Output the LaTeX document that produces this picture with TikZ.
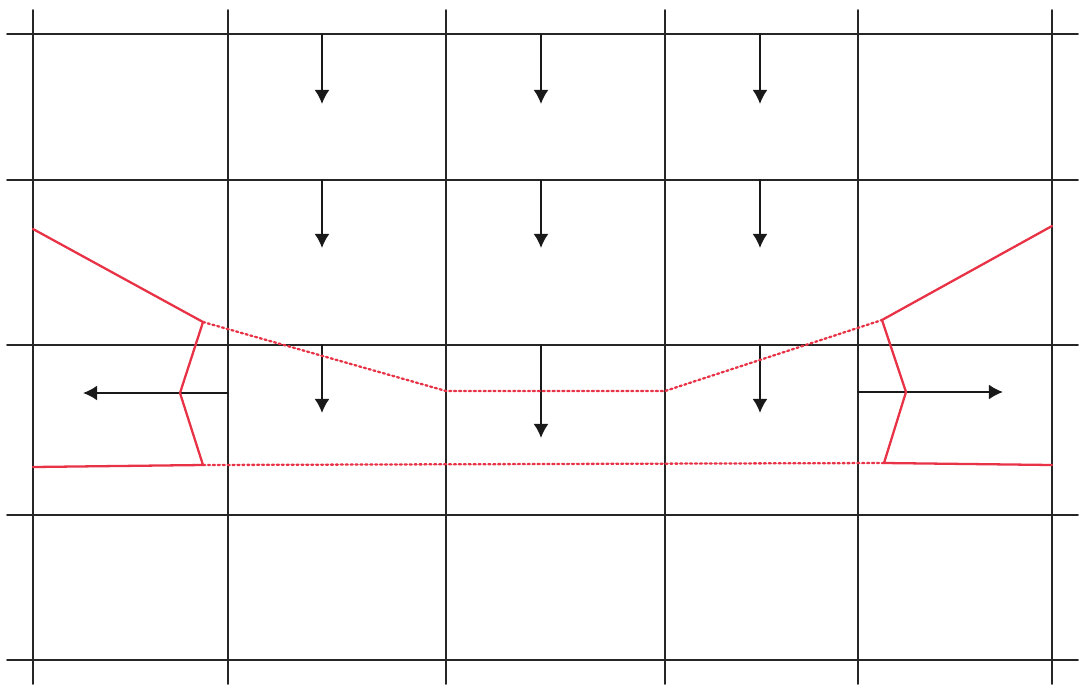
\documentclass[tikz,border=0pt]{standalone}
\usetikzlibrary{arrows.meta}
\definecolor{wallred}{RGB}{232,50,70}
\tikzset{
  grid line/.style={line width=1.1pt,black!85},
  load arrow/.style={line width=1.1pt,black!90,-{Latex[length=8pt,width=8.5pt]}},
  bound/.style={line width=1.3pt,wallred},
  bound dot/.style={line width=1.3pt,wallred,dash pattern=on 1.2pt off 1.6pt}
}
\begin{document}
\begin{tikzpicture}[x=0.02cm,y=-0.02cm,line cap=round,line join=round]
  \useasboundingbox (0,0) rectangle (1082,687);
  % grid
  \foreach \gx in {33,228,446,665,858,1052}
    \draw[grid line] (\gx,10) -- (\gx,684);
  \foreach \gy in {34,180,345,515,660}
    \draw[grid line] (7,\gy) -- (1078,\gy);
  % downward loads
  \foreach \ax in {322,541,760}{
    \draw[load arrow] (\ax,34) -- (\ax,104);
    \draw[load arrow] (\ax,180) -- (\ax,248);
  }
  \draw[load arrow] (322,345) -- (322,413);
  \draw[load arrow] (541,345) -- (541,438);
  \draw[load arrow] (760,345) -- (760,413);
  % sideways pushes
  \draw[load arrow] (228,393) -- (83,393);
  \draw[load arrow] (858,392) -- (1003,392);
  % red outline
  \coordinate (lt) at (33,229);
  \coordinate (lk) at (203,322);
  \coordinate (lm) at (180,393);
  \coordinate (lb) at (203,465);
  \coordinate (lo) at (33,467);
  \coordinate (rt) at (1052,226);
  \coordinate (rk) at (882,320);
  \coordinate (rm) at (906,392);
  \coordinate (rb) at (884,463);
  \coordinate (ro) at (1052,465);
  \coordinate (ca) at (446,391);
  \coordinate (cb) at (665,391);
  \draw[bound] (lt) -- (lk) -- (lm) -- (lb) -- (lo);
  \draw[bound] (rt) -- (rk) -- (rm) -- (rb) -- (ro);
  \draw[bound dot] (lk) -- (ca) -- (cb) -- (rk);
  \draw[bound dot] (lb) -- (rb);
\end{tikzpicture}
\end{document}
